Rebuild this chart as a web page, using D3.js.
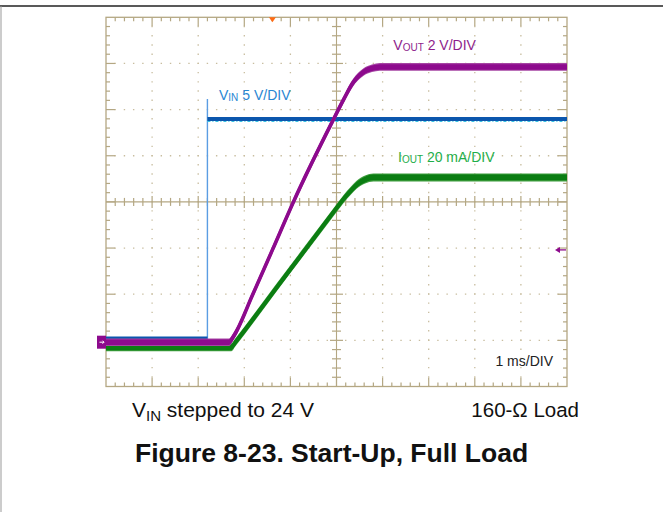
<!DOCTYPE html>
<html><head><meta charset="utf-8">
<script src="https://cdn.jsdelivr.net/npm/d3@7"></script>
<style>html,body{margin:0;padding:0;background:#fff;}svg{display:block;}</style>
</head><body>
<script>
// ---- data (read from the scope capture) ----
// time in ms, 1 ms/DIV, 10 divisions centred on 0
const timeDivs = [-5, 5];
// VIN channel: 5 V/DIV
const vinTime  = [-5, -2.80, -2.80, -2.80, 5];
const vinVolts = [0, 0, 26.0, 23.8, 23.8];
// VOUT channel: 2 V/DIV
const voutTime  = [-5, -2.33, -2.25, -1.81, -1.39, -0.93, -0.08, 0.15, 0.36, 0.58, 0.77, 0.94, 5];
const voutVolts = [0, 0, 0.2, 2.1, 4.0, 6.1, 9.6, 10.5, 11.25, 11.7, 11.87, 11.93, 11.93];
// IOUT channel: 20 mA/DIV
const ioutTime = [-5, -2.28, -2.20, -1.34, -0.69, 0.0, 0.15, 0.31, 0.43, 0.62, 0.8, 5];
const ioutmA   = [0, 0, 2.0, 24.8, 42.0, 60.3, 64.2, 67.8, 70.3, 72.7, 73.6, 73.6];
// channel settings (per division, ground position in divisions)
const vinPerDiv = 5,  vinGround = -2.97;
const voutPerDiv = 2, voutGround = -3.04;
const ioutPerDiv = 20, ioutGround = -3.15;
const triggerTime = -1.39, triggerLevelV = 4.0;
// texts
const labelVout = ["V", "OUT", " 2 V/DIV"];
const labelVin  = ["V", "IN", " 5 V/DIV"];
const labelIout = ["I", "OUT", " 20 mA/DIV"];
const labelTime = "1 ms/DIV";
const captionLeft = ["V", "IN", " stepped to 24 V"];
const captionRight = "160-Ω Load";
const title = "Figure 8-23. Start-Up, Full Load";

// ---- drawing ----
const W = 663, H = 512;
const svg = d3.select("body").append("svg").attr("width", W).attr("height", H);
const P = {left: 106, right: 567, top: 17.3, bottom: 386.5};
const x = d3.scaleLinear().domain(timeDivs).range([P.left, P.right]);
const y = d3.scaleLinear().domain([-4, 4]).range([P.bottom, P.top]);
const FONT = "'Liberation Sans', Arial, Helvetica, sans-serif";

// page frame
svg.append("line").attr("x1", 0).attr("x2", W).attr("y1", 6).attr("y2", 6)
  .attr("stroke", "#222").attr("stroke-width", 1.6);
svg.append("line").attr("x1", 1).attr("x2", 1).attr("y1", 6).attr("y2", H)
  .attr("stroke", "#999").attr("stroke-width", 1);

const gridCol = "#b4a783", dotCol = "#c8bd9f";
const g = svg.append("g");
const minorX = d3.range(-5, 5.0001, 0.2).map(v => +v.toFixed(2));
const minorY = d3.range(-4, 4.0001, 0.2).map(v => +v.toFixed(2));
const isMajor = v => Math.abs(v - Math.round(v)) < 1e-6;

// dotted major grid lines
const step = (P.right - P.left) / 50;
d3.range(-4, 5).filter(v => v !== 0).forEach(v => {
  g.append("line").attr("x1", x(v)).attr("x2", x(v)).attr("y1", P.top + step - 0.7).attr("y2", P.bottom)
    .attr("stroke", dotCol).attr("stroke-width", 1.3).attr("stroke-dasharray", `1.4 ${step - 1.4}`);
});
d3.range(-3, 4).filter(v => v !== 0).forEach(v => {
  g.append("line").attr("y1", y(v)).attr("y2", y(v)).attr("x1", P.left + step - 0.7).attr("x2", P.right)
    .attr("stroke", dotCol).attr("stroke-width", 1.3).attr("stroke-dasharray", `1.4 ${step - 1.4}`);
});
// centre cross
g.append("line").attr("x1", x(0)).attr("x2", x(0)).attr("y1", P.top).attr("y2", P.bottom)
  .attr("stroke", gridCol).attr("stroke-width", 1.1);
g.append("line").attr("y1", y(0)).attr("y2", y(0)).attr("x1", P.left).attr("x2", P.right)
  .attr("stroke", gridCol).attr("stroke-width", 1.1);
// ticks
minorX.slice(1, -1).forEach(v => {
  const L = isMajor(v) ? 9 : 4;
  g.append("line").attr("x1", x(v)).attr("x2", x(v)).attr("y1", P.top).attr("y2", P.top + L)
    .attr("stroke", gridCol).attr("stroke-width", 1.2);
  g.append("line").attr("x1", x(v)).attr("x2", x(v)).attr("y1", P.bottom).attr("y2", P.bottom - L)
    .attr("stroke", gridCol).attr("stroke-width", 1.2);
  const C = isMajor(v) ? 6 : 4;
  g.append("line").attr("x1", x(v)).attr("x2", x(v)).attr("y1", y(0) - C).attr("y2", y(0) + C)
    .attr("stroke", gridCol).attr("stroke-width", 1.2);
});
minorY.slice(1, -1).forEach(v => {
  const L = isMajor(v) ? 9 : 4;
  g.append("line").attr("y1", y(v)).attr("y2", y(v)).attr("x1", P.left).attr("x2", P.left + L)
    .attr("stroke", gridCol).attr("stroke-width", 1.2);
  g.append("line").attr("y1", y(v)).attr("y2", y(v)).attr("x1", P.right).attr("x2", P.right - L)
    .attr("stroke", gridCol).attr("stroke-width", 1.2);
  const C = isMajor(v) ? 6.5 : 4.5;
  g.append("line").attr("y1", y(v)).attr("y2", y(v)).attr("x1", x(0) - C).attr("x2", x(0) + C)
    .attr("stroke", gridCol).attr("stroke-width", 1.2);
});
g.append("rect").attr("x", P.left).attr("y", P.top).attr("width", P.right - P.left).attr("height", P.bottom - P.top)
  .attr("fill", "none").attr("stroke", gridCol).attr("stroke-width", 1.3);

// traces
function series(ts, vs, perDiv, gnd) {
  return ts.map((t, i) => ({t, d: gnd + vs[i] / perDiv}));
}
const vin = series(vinTime, vinVolts, vinPerDiv, vinGround);
const vout = series(voutTime, voutVolts, voutPerDiv, voutGround);
const iout = series(ioutTime, ioutmA, ioutPerDiv, ioutGround);

function drawTrace(data, curve, col, lightCol, band, width) {
  const area = k => d3.area().x(d => x(d.t)).y0(d => y(d.d) - band * k).y1(d => y(d.d) + band * k).curve(curve);
  const line = d3.line().x(d => x(d.t)).y(d => y(d.d)).curve(curve);
  svg.append("path").attr("d", area(1)(data)).attr("fill", lightCol);
  svg.append("path").attr("d", area(0.72)(data)).attr("fill", col);
  svg.append("path").attr("d", line(data)).attr("fill", "none").attr("stroke", col).attr("stroke-width", width)
     .attr("stroke-linejoin", "round");
}

// VIN: thin step edge, thick flat runs
svg.append("path").attr("d", d3.line().x(d => x(d.t)).y(d => y(d.d))(vin))
  .attr("fill", "none").attr("stroke", "#5b9de3").attr("stroke-width", 1.4);
for (let i = 0; i < vin.length - 1; i++) {
  if (vin[i].d === vin[i + 1].d) {
    const seg = [vin[i], vin[i + 1]];
    svg.append("path").attr("d", d3.line().x(d => x(d.t)).y(d => y(d.d) + 1.6)(seg))
      .attr("fill", "none").attr("stroke", "#3cc3e3").attr("stroke-width", 2.2).attr("stroke-dasharray", "3 2 1 2");
    svg.append("path").attr("d", d3.line().x(d => x(d.t)).y(d => y(d.d) - 0.4)(seg))
      .attr("fill", "none").attr("stroke", "#0b56ad").attr("stroke-width", 4.0);
  }
}
drawTrace(iout, d3.curveMonotoneX, "#0b7d12", "#3f9e3f", 4.0, 3.8);
drawTrace(vout, d3.curveMonotoneX, "#8d0a8d", "#a544a3", 3.8, 3.6);

// ground marker (VOUT), trigger position and trigger level
const gy = y(voutGround);
svg.append("rect").attr("x", 97).attr("y", gy - 6.5).attr("width", 9).attr("height", 13).attr("fill", "#8d0a8d");
svg.append("path").attr("d", `M${99.5},${gy} L${104},${gy} M${102.5},${gy - 1.5} L${104},${gy} L${102.5},${gy + 1.5}`)
  .attr("stroke", "#fff").attr("stroke-width", 1).attr("fill", "none");
const tx = x(triggerTime);
svg.append("path").attr("d", `M${tx - 3.5},${P.top} L${tx + 3.5},${P.top} L${tx},${P.top + 5} Z`).attr("fill", "#ff6a13");
const ty = y(voutGround + triggerLevelV / voutPerDiv);
svg.append("path").attr("d", `M${P.right - 1},${ty} L${P.right - 10},${ty}`).attr("stroke", "#8d0a8d").attr("stroke-width", 1.3);
svg.append("path").attr("d", `M${P.right - 12},${ty} L${P.right - 7},${ty - 3} L${P.right - 7},${ty + 3} Z`).attr("fill", "#8d0a8d");

// labels
function subLabel(xp, yp, parts, size, subSize, col, dy, weight) {
  const t = svg.append("text").attr("x", xp).attr("y", yp).attr("font-family", FONT)
    .attr("font-size", size).attr("fill", col).attr("font-weight", weight || "normal");
  t.append("tspan").text(parts[0]);
  t.append("tspan").attr("font-size", subSize).attr("dy", dy).text(parts[1]);
  t.append("tspan").attr("dy", -dy).text(parts[2]);
  return t;
}
subLabel(393.3, 50, labelVout, 14, 10, "#8e1e8c", 1);
subLabel(219, 100, labelVin, 14, 10, "#2a86d2", 1);
subLabel(398, 162.3, labelIout, 14, 10, "#1fae4a", 1);
svg.append("text").attr("x", 553).attr("y", 366).attr("text-anchor", "end").attr("font-family", FONT)
  .attr("font-size", 14).attr("fill", "#222").text(labelTime);

subLabel(132, 416.7, captionLeft, 21, 15, "#111", 4);
svg.append("text").attr("x", 579).attr("y", 416.7).attr("text-anchor", "end").attr("font-family", FONT)
  .attr("font-size", 20.5).attr("fill", "#111").text(captionRight);
svg.append("text").attr("x", 135).attr("y", 461.5).attr("font-family", FONT).attr("font-weight", "bold")
  .attr("font-size", 26.5).attr("fill", "#111").text(title);
</script>
</body></html>
